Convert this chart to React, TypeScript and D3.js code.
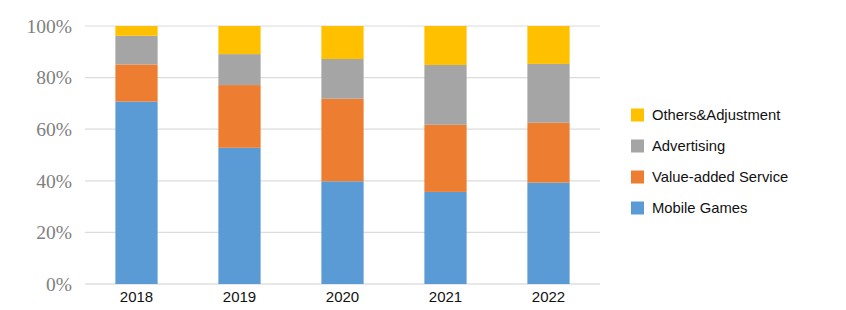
import React from "react";
import * as d3 from "d3";

const years = ["2018", "2019", "2020", "2021", "2022"];
const mobileGames = [70.7, 52.8, 39.8, 35.7, 39.3];
const valueAdded = [14.4, 24.3, 32.0, 26.0, 23.2];
const advertising = [11.1, 12.0, 15.4, 23.2, 22.8];
const others = [3.8, 10.9, 12.8, 15.1, 14.7];
const seriesNames = ["Mobile Games", "Value-added Service", "Advertising", "Others&Adjustment"];
const seriesColors = ["#5B9BD5", "#ED7D31", "#A5A5A5", "#FFC000"];
const yTicks = [0, 20, 40, 60, 80, 100];

export default function App() {
  const W = 846, H = 310;
  const left = 85, right = 600, top = 26, bottom = 284;
  const x = d3.scaleBand<string>().domain(years).range([left, right]).paddingInner(0.59).paddingOuter(0.295);
  const y = d3.scaleLinear().domain([0, 100]).range([bottom, top]);

  const rows = years.map((yr, i) => ({
    year: yr,
    "Mobile Games": mobileGames[i],
    "Value-added Service": valueAdded[i],
    "Advertising": advertising[i],
    "Others&Adjustment": others[i],
  }));
  const stacked = d3.stack<any>().keys(seriesNames)(rows);

  const legendOrder = [3, 2, 1, 0];
  const legendY = [115, 146, 177, 208];

  return (
    <svg width={W} height={H} style={{ position: "absolute", left: 0, top: 0, background: "#fff" }}>
      {yTicks.map((t) => (
        <g key={t}>
          <line x1={left} x2={right} y1={y(t)} y2={y(t)} stroke={t === 0 ? "#cfcfcf" : "#dcdcdc"} strokeWidth={1.2} />
          <text x={72} y={y(t)} dy="0.35em" textAnchor="end" fontFamily="'Liberation Serif', 'Times New Roman', serif" fontSize={19.5} fill="#808080">
            {t}%
          </text>
        </g>
      ))}
      {stacked.map((s, si) => (
        <g key={s.key} fill={seriesColors[si]}>
          {s.map((d, i) => (
            <rect key={i} x={x(years[i])} width={x.bandwidth()} y={y(d[1])} height={y(d[0]) - y(d[1])} />
          ))}
        </g>
      ))}
      {years.map((yr) => (
        <text key={yr} x={(x(yr) as number) + x.bandwidth() / 2} y={302} textAnchor="middle" fontFamily="'Liberation Sans', Arial, sans-serif" fontSize={15} fill="#111">
          {yr}
        </text>
      ))}
      {legendOrder.map((si, k) => (
        <g key={si}>
          <rect x={631} y={legendY[k] - 6.5} width={13} height={13} fill={seriesColors[si]} />
          <text x={652} y={legendY[k]} dy="0.35em" fontFamily="'Liberation Sans', Arial, sans-serif" fontSize={14.8} fill="#111">
            {seriesNames[si]}
          </text>
        </g>
      ))}
    </svg>
  );
}
